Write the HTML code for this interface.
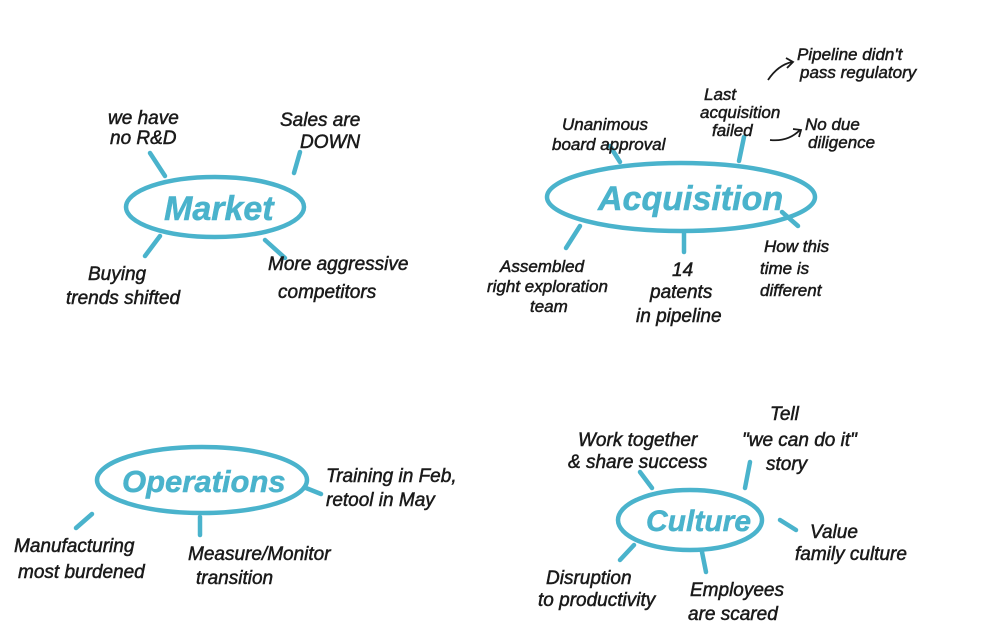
<!DOCTYPE html>
<html><head><style>
body{margin:0;background:#fff;width:982px;height:639px;overflow:hidden}
svg text{font-family:"Liberation Sans",sans-serif;font-style:italic;fill:#1a1a1a;stroke:#1a1a1a;stroke-width:0.5px;font-size:19px}
svg text.t{fill:#4ab3cc;stroke:#4ab3cc;font-weight:bold}
svg text.s{font-size:17px}
</style></head><body>
<svg width="982" height="639" viewBox="0 0 982 639" xmlns="http://www.w3.org/2000/svg">
<g fill="none" stroke="#4ab3cc" stroke-width="4.5" stroke-linecap="round">
<ellipse cx="215" cy="207" rx="89" ry="30"/>
<line x1="150" y1="153" x2="165" y2="176"/><line x1="300" y1="152" x2="294" y2="173"/>
<line x1="160" y1="236" x2="145" y2="256"/><line x1="265" y1="240" x2="285" y2="258"/>
<ellipse cx="681" cy="197" rx="134" ry="34"/>
<line x1="610" y1="146" x2="620" y2="162"/><line x1="744" y1="137" x2="739" y2="161"/>
<line x1="580" y1="226" x2="566" y2="248"/><line x1="684" y1="232" x2="684" y2="252"/>
<line x1="782" y1="212" x2="798" y2="226"/>
<ellipse cx="202" cy="480" rx="105" ry="33"/>
<line x1="92" y1="514" x2="76" y2="528"/><line x1="200" y1="517" x2="200" y2="535"/>
<line x1="306" y1="488" x2="321" y2="494"/>
<ellipse cx="690" cy="520" rx="72" ry="30"/>
<line x1="652" y1="488" x2="640" y2="472"/><line x1="745" y1="488" x2="750" y2="462"/>
<line x1="780" y1="520" x2="796" y2="530"/><line x1="634" y1="545" x2="620" y2="560"/>
<line x1="702" y1="552" x2="706" y2="572"/>
</g>
<g fill="none" stroke="#1a1a1a" stroke-width="1.8">
<path d="M768 80 Q778 65 792 62"/><path d="M786 58 L793 62 L787 68"/>
<path d="M770 140 Q788 142 800 130"/><path d="M793 129 L801 130 L799 137"/>
</g>
<text class="t" x="164" y="220" style="font-size:34px">Market</text>
<text class="t" x="598" y="210" style="font-size:34px">Acquisition</text>
<text class="t" x="122" y="492" style="font-size:31px">Operations</text>
<text class="t" x="646" y="531" style="font-size:30px">Culture</text>
<text x="108" y="124">we have</text><text x="110" y="144">no R&amp;D</text>
<text x="280" y="126">Sales are</text><text x="300" y="148">DOWN</text>
<text x="88" y="280">Buying</text><text x="66" y="304">trends shifted</text>
<text x="268" y="270">More aggressive</text><text x="278" y="298">competitors</text>
<text class="s" x="562" y="130">Unanimous</text><text class="s" x="552" y="150">board approval</text>
<text class="s" x="704" y="100">Last</text><text class="s" x="700" y="118">acquisition</text><text class="s" x="712" y="136">failed</text>
<text class="s" x="797" y="60">Pipeline didn't</text><text class="s" x="800" y="78">pass regulatory</text>
<text class="s" x="805" y="130">No due</text><text class="s" x="808" y="148">diligence</text>
<text class="s" x="500" y="272">Assembled</text><text class="s" x="487" y="292">right exploration</text><text class="s" x="530" y="312">team</text>
<text x="672" y="276">14</text><text x="650" y="298">patents</text><text x="636" y="322">in pipeline</text>
<text class="s" x="764" y="252">How this</text><text class="s" x="760" y="274">time is</text><text class="s" x="760" y="296">different</text>
<text x="326" y="482">Training in Feb,</text><text x="326" y="506">retool in May</text>
<text x="14" y="552">Manufacturing</text><text x="18" y="578">most burdened</text>
<text x="188" y="560">Measure/Monitor</text><text x="196" y="584">transition</text>
<text x="578" y="446">Work together</text><text x="568" y="468">&amp; share success</text>
<text x="770" y="420">Tell</text><text x="742" y="446">"we can do it"</text><text x="766" y="470">story</text>
<text x="810" y="538">Value</text><text x="795" y="560">family culture</text>
<text x="546" y="584">Disruption</text><text x="538" y="606">to productivity</text>
<text x="690" y="596">Employees</text><text x="688" y="620">are scared</text>
</svg>
</body></html>
